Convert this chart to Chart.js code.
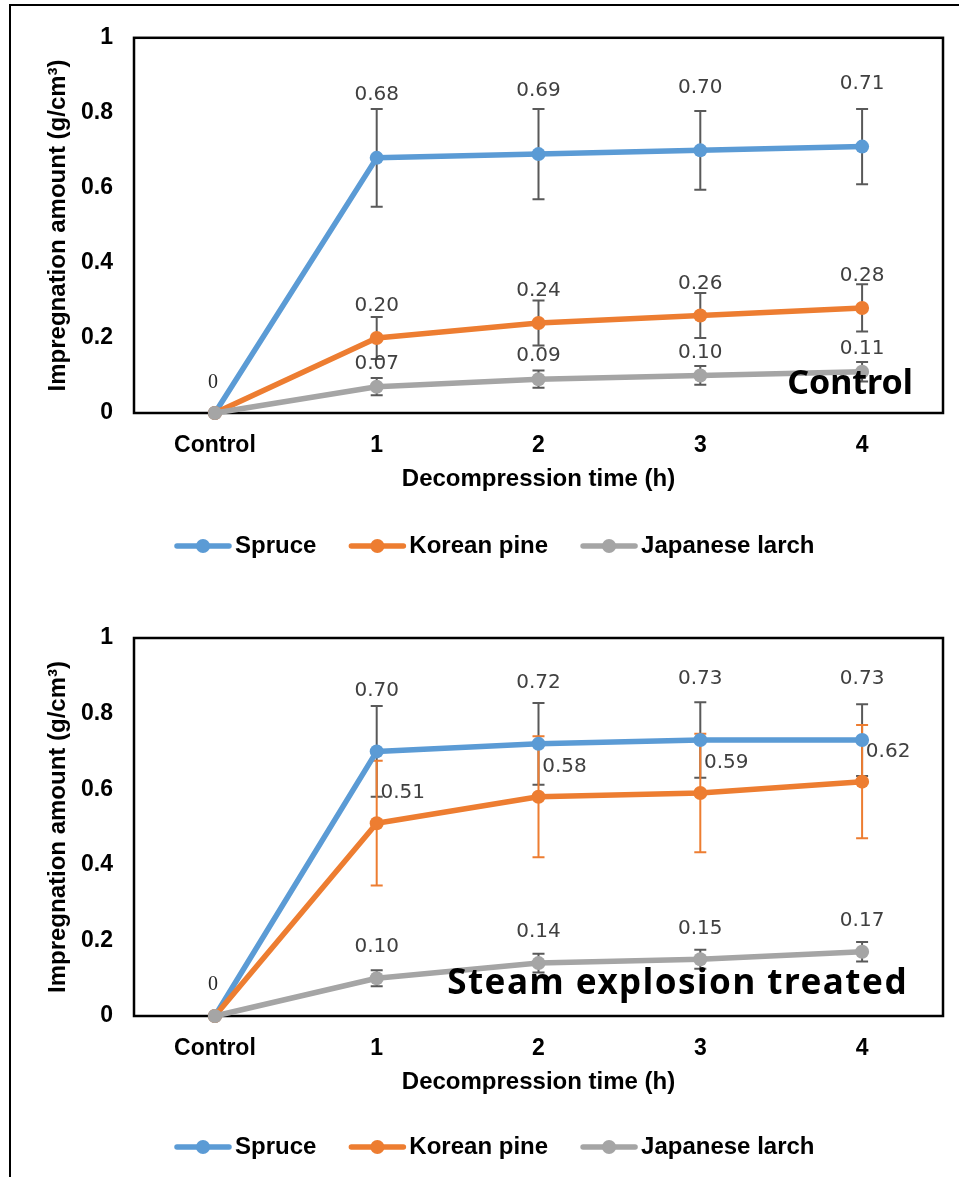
<!DOCTYPE html>
<html>
<head>
<meta charset="utf-8">
<script src="https://cdn.jsdelivr.net/npm/chart.js@4.4.1/dist/chart.umd.min.js"></script>
<style>
  html, body { margin: 0; padding: 0; background: #fff; }
  body { width: 959px; height: 1177px; overflow: hidden; position: relative; }
  #frame { position: absolute; left: 9px; top: 4px; width: 980px; height: 1220px;
           border-left: 2px solid #000; border-top: 2px solid #000; }
  .box { position: absolute; left: 12px; width: 944px; }
  #box1 { top: 3px; height: 597px; }
  #box2 { top: 600px; height: 577px; }
</style>
</head>
<body>
<div id="frame"></div>
<div class="box" id="box1"><canvas id="c1"></canvas></div>
<div class="box" id="box2"><canvas id="c2"></canvas></div>
<script>
// 数据
const categories = ["Control", "1", "2", "3", "4"];
const seriesNames = ["Spruce", "Korean pine", "Japanese larch"];
const seriesColors = ["#5B9BD5", "#ED7D31", "#A5A5A5"];
const yTicks = [0, 0.2, 0.4, 0.6, 0.8, 1];

// 上图：Control
const spruceControl = [0, 0.68, 0.69, 0.70, 0.71];
const spruceControlErr = [0, 0.13, 0.12, 0.105, 0.10];
const pineControl = [0, 0.20, 0.24, 0.26, 0.28];
const pineControlErr = [0, 0.056, 0.06, 0.06, 0.063];
const larchControl = [0, 0.07, 0.09, 0.10, 0.11];
const larchControlErr = [0, 0.023, 0.023, 0.025, 0.026];

// 下图：Steam explosion treated
const spruceSteam = [0, 0.70, 0.72, 0.73, 0.73];
const spruceSteamErr = [0, 0.12, 0.108, 0.10, 0.095];
const pineSteam = [0, 0.51, 0.58, 0.59, 0.62];
const pineSteamErr = [0, 0.165, 0.16, 0.157, 0.15];
const larchSteam = [0, 0.10, 0.14, 0.15, 0.17];
const larchSteamErr = [0, 0.021, 0.025, 0.025, 0.026];

const FAMILY = "'Liberation Sans', Arial, sans-serif";
const TICK_FONT = { family: FAMILY, weight: "bold", size: 23 };
const TITLE_FONT = { family: FAMILY, weight: "bold", size: 24 };
const ERR_GRAY = "#595959";

// 绘图区边框
const plotFrame = {
  id: "plotFrame",
  beforeDatasetsDraw(chart) {
    const { ctx, chartArea: a } = chart;
    ctx.save();
    ctx.strokeStyle = "#000";
    ctx.lineWidth = 2.5;
    ctx.strokeRect(a.left, a.top, a.right - a.left, a.bottom - a.top);
    ctx.restore();
  },
};

// 误差线
const errorBars = {
  id: "errorBars",
  beforeDatasetsDraw(chart) {
    const { ctx } = chart;
    const y = chart.scales.y;
    chart.data.datasets.forEach((ds, di) => {
      const meta = chart.getDatasetMeta(di);
      ctx.save();
      ctx.strokeStyle = ds.errorColor;
      ctx.lineWidth = 2;
      meta.data.forEach((pt, i) => {
        const e = ds.errors[i];
        if (!e) return;
        const top = y.getPixelForValue(ds.data[i] + e);
        const bot = y.getPixelForValue(ds.data[i] - e);
        ctx.beginPath();
        ctx.moveTo(pt.x, top); ctx.lineTo(pt.x, bot);
        ctx.moveTo(pt.x - 6, top); ctx.lineTo(pt.x + 6, top);
        ctx.moveTo(pt.x - 6, bot); ctx.lineTo(pt.x + 6, bot);
        ctx.stroke();
      });
      ctx.restore();
    });
  },
};

// 数据标签
const valueLabels = {
  id: "valueLabels",
  afterDatasetsDraw(chart, args, opts) {
    const { ctx } = chart;
    const seen = new Set();
    ctx.save();
    ctx.textAlign = "center";
    ctx.textBaseline = "middle";
    chart.data.datasets.forEach((ds, di) => {
      const meta = chart.getDatasetMeta(di);
      const off = opts.offsets[di];
      meta.data.forEach((pt, i) => {
        const v = ds.data[i];
        if (v === 0) {
          const key = Math.round(pt.x) + "," + Math.round(pt.y);
          if (seen.has(key)) return;
          seen.add(key);
          ctx.font = "20px 'Liberation Serif'";
          ctx.fillStyle = "#262626";
          ctx.fillText("0", pt.x - 2, pt.y + opts.zeroDy);
        } else {
          ctx.font = "20px 'DejaVu Sans'";
          ctx.fillStyle = "#404040";
          ctx.fillText(v.toFixed(2), pt.x + off.dx, pt.y + off.dy);
        }
      });
    });
    ctx.restore();
  },
};

// 图内标题
const cornerTitle = {
  id: "cornerTitle",
  afterDraw(chart, args, opts) {
    const { ctx, chartArea: a } = chart;
    ctx.save();
    ctx.font = "bold " + opts.size + "px 'Noto Sans'";
    ctx.fillStyle = "#000";
    ctx.textAlign = "right";
    ctx.textBaseline = "alphabetic";
    if (opts.letterSpacing) ctx.letterSpacing = opts.letterSpacing;
    ctx.fillText(opts.text, a.right - opts.right, a.bottom - opts.bottom);
    ctx.restore();
  },
};

// 图例（线 + 点）
const lineLegend = {
  id: "lineLegend",
  afterDraw(chart, args, opts) {
    const { ctx, chartArea: a } = chart;
    let x = a.left + opts.dx;
    const y = a.bottom + opts.dy;
    ctx.save();
    ctx.font = "bold 24px " + FAMILY;
    ctx.textBaseline = "middle";
    chart.data.datasets.forEach((ds) => {
      ctx.strokeStyle = ds.borderColor;
      ctx.fillStyle = ds.borderColor;
      ctx.lineWidth = 5.5;
      ctx.lineCap = "round";
      ctx.beginPath();
      ctx.moveTo(x + 2, y); ctx.lineTo(x + 54, y);
      ctx.stroke();
      ctx.beginPath();
      ctx.arc(x + 28, y, 7, 0, Math.PI * 2);
      ctx.fill();
      x += 60;
      ctx.fillStyle = "#000";
      ctx.fillText(ds.label, x, y);
      x += ctx.measureText(ds.label).width + 33;
    });
    ctx.restore();
  },
};

function makeDataset(i, values, errs, errColor, order) {
  return {
    label: seriesNames[i],
    data: values,
    errors: errs,
    errorColor: errColor,
    borderColor: seriesColors[i],
    backgroundColor: seriesColors[i],
    pointBackgroundColor: seriesColors[i],
    pointBorderWidth: 0,
    pointRadius: 7,
    borderWidth: 5.5,
    borderJoinStyle: "round",
    borderCapStyle: "round",
    tension: 0,
    clip: false,
    order: order,
  };
}

function makeChart(id, datasets, pad, labelOpts, title, legendDy) {
  return new Chart(document.getElementById(id), {
    type: "line",
    data: { labels: categories, datasets: datasets },
    plugins: [plotFrame, errorBars, valueLabels, cornerTitle, lineLegend],
    options: {
      responsive: true,
      maintainAspectRatio: false,
      animation: false,
      layout: { padding: pad },
      plugins: {
        legend: { display: false },
        tooltip: { enabled: false },
        valueLabels: labelOpts,
        cornerTitle: title,
        lineLegend: { dx: 41, dy: legendDy },
      },
      scales: {
        x: {
          type: "category",
          offset: true,
          grid: { display: false, drawTicks: false },
          border: { display: false },
          ticks: { font: TICK_FONT, color: "#000", padding: 19, maxRotation: 0, autoSkip: false },
          title: {
            display: true,
            text: "Decompression time (h)",
            font: TITLE_FONT,
            color: "#000",
            padding: { top: 0, bottom: 19 },
          },
          afterFit(s) { s.height = 100; },
        },
        y: {
          min: 0,
          max: 1,
          grid: { display: false, drawTicks: false },
          border: { display: false },
          ticks: {
            font: TICK_FONT,
            color: "#000",
            padding: 21,
            callback: (v) => String(Math.round(v * 10) / 10),
          },
          afterBuildTicks(s) { s.ticks = yTicks.map((v) => ({ value: v })); },
          title: {
            display: true,
            text: "Impregnation amount (g/cm³)",
            font: TITLE_FONT,
            color: "#000",
            padding: { top: 32, bottom: 0 },
          },
          afterFit(s) { s.width = 122; },
        },
      },
    },
  });
}

makeChart(
  "c1",
  [
    makeDataset(0, spruceControl, spruceControlErr, ERR_GRAY, 3),
    makeDataset(1, pineControl, pineControlErr, ERR_GRAY, 2),
    makeDataset(2, larchControl, larchControlErr, ERR_GRAY, 1),
  ],
  { top: 34, right: 13, left: 0, bottom: 87 },
  { offsets: [{ dx: 0, dy: -63 }, { dx: 0, dy: -32 }, { dx: 0, dy: -23 }], zeroDy: -30 },
  { text: "Control", size: 34, right: 30, bottom: 19 },
  133
);

makeChart(
  "c2",
  [
    makeDataset(0, spruceSteam, spruceSteamErr, ERR_GRAY, 3),
    makeDataset(1, pineSteam, pineSteamErr, "#ED7D31", 2),
    makeDataset(2, larchSteam, larchSteamErr, ERR_GRAY, 1),
  ],
  { top: 38, right: 13, left: 0, bottom: 61 },
  { offsets: [{ dx: 0, dy: -61 }, { dx: 26, dy: -30 }, { dx: 0, dy: -31 }], zeroDy: -31 },
  { text: "Steam explosion treated", size: 35, letterSpacing: "1.5px", right: 35, bottom: 22 },
  131
);
</script>
</body>
</html>
